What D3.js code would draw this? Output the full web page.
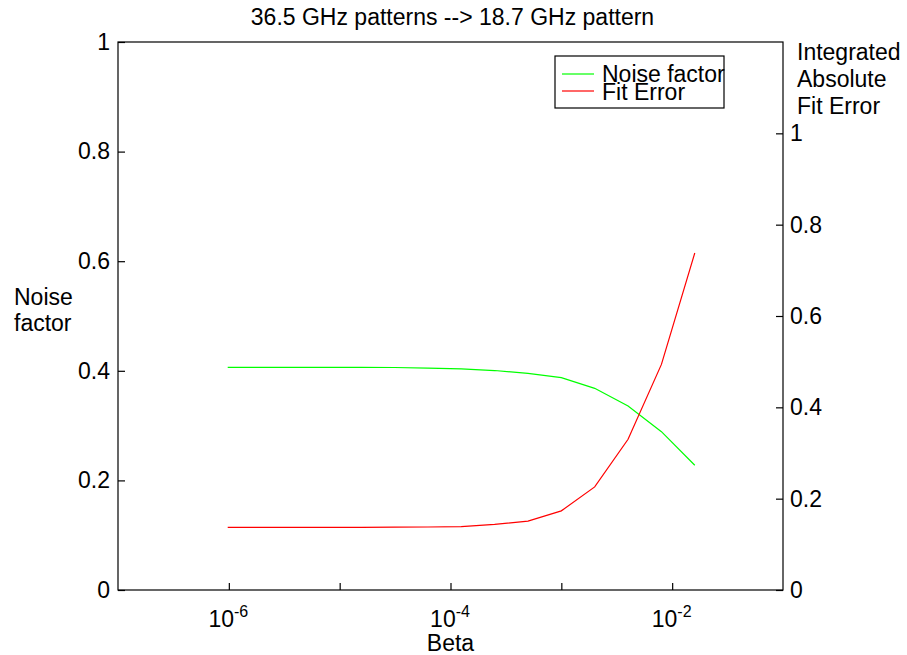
<!DOCTYPE html>
<html><head><meta charset="utf-8">
<script src="https://cdn.jsdelivr.net/npm/d3@7"></script>
<style>
body{margin:0;background:#fff}
text{font-family:"Liberation Sans",Arial,Helvetica,sans-serif;fill:#000}
</style>
</head><body>
<svg id="c" width="907" height="655"></svg>
<script>
// ---- data ----
const beta = [9.77e-7, 1.95e-6, 3.91e-6, 7.81e-6, 1.56e-5, 3.13e-5, 6.25e-5, 1.25e-4, 2.5e-4, 5e-4, 1e-3, 2e-3, 4e-3, 8e-3, 1.6e-2];
const noiseFactor = [0.4064, 0.4064, 0.4064, 0.4064, 0.4063, 0.4060, 0.4050, 0.4036, 0.4005, 0.3954, 0.3874, 0.3680, 0.3358, 0.2889, 0.2276];
const fitError = [0.137, 0.137, 0.137, 0.137, 0.137, 0.1375, 0.138, 0.1388, 0.1436, 0.1508, 0.1733, 0.2258, 0.330, 0.494, 0.738];
const xTicks = [1e-6, 1e-5, 1e-4, 1e-3, 1e-2];
const xTickLabels = {"-6": "-6", "-4": "-4", "-2": "-2"};
const leftTicks = [0, 0.2, 0.4, 0.6, 0.8, 1];
const rightTicks = [0, 0.2, 0.4, 0.6, 0.8, 1];
const title = "36.5 GHz patterns --> 18.7 GHz pattern";
const xLabel = "Beta";
const leftLabel = ["Noise", "factor"];
const rightLabel = ["Integrated", "Absolute", "Fit Error"];
const legendNames = ["Noise factor", "Fit Error"];
const colors = ["#00ff00", "#ff0000"];

// ---- layout ----
const L = 118, R = 783, T = 42, B = 590;
const FS = 23;
const svg = d3.select("#c");

const x = d3.scaleLog().domain([1e-7, 1e-1]).range([L, R]);
const yL = d3.scaleLinear().domain([0, 1]).range([B, T]);
const yR = d3.scaleLinear().domain([0, 1.2]).range([B, T]);

// frame
svg.append("rect").attr("x", L).attr("y", T).attr("width", R - L).attr("height", B - T)
  .attr("fill", "none").attr("stroke", "#000").attr("stroke-width", 1.2);

// bottom axis
const ax = svg.append("g").attr("transform", `translate(0,${B})`)
  .call(d3.axisBottom(x).tickValues(xTicks).tickSizeInner(-7).tickSizeOuter(0).tickFormat(""));
ax.select(".domain").remove();
ax.selectAll("line").attr("stroke", "#000").attr("stroke-width", 1.2);
ax.selectAll(".tick").each(function(d) {
  const e = Math.round(Math.log10(d));
  if (xTickLabels[String(e)] === undefined) return;
  const t = d3.select(this).append("text").attr("x", -1).attr("y", 37)
    .attr("text-anchor", "middle").attr("font-size", FS).attr("fill", "#000");
  t.append("tspan").text("10");
  t.append("tspan").attr("dy", -10).attr("font-size", 16).text(xTickLabels[String(e)]);
});

// left axis
const fmt = d => d === 0 || d === 1 ? d3.format("d")(d) : d3.format(".1f")(d);
const al = svg.append("g").attr("transform", `translate(${L},0)`)
  .call(d3.axisLeft(yL).tickValues(leftTicks).tickSizeInner(-7).tickSizeOuter(0)
    .tickPadding(8).tickFormat(fmt));
al.select(".domain").remove();
al.selectAll("line").attr("stroke", "#000").attr("stroke-width", 1.2);
al.selectAll("text").attr("font-size", FS).attr("fill", "#000").attr("font-family", null);

// right axis
const ar = svg.append("g").attr("transform", `translate(${R},0)`)
  .call(d3.axisRight(yR).tickValues(rightTicks).tickSizeInner(-7).tickSizeOuter(0)
    .tickPadding(7).tickFormat(fmt));
ar.select(".domain").remove();
ar.selectAll("line").attr("stroke", "#000").attr("stroke-width", 1.2);
ar.selectAll("text").attr("font-size", FS).attr("fill", "#000").attr("font-family", null);

// lines
const lineL = d3.line().x((d, i) => x(beta[i])).y(d => yL(d));
const lineR = d3.line().x((d, i) => x(beta[i])).y(d => yR(d));
svg.append("path").datum(noiseFactor).attr("d", lineL).attr("fill", "none")
  .attr("stroke", colors[0]).attr("stroke-width", 1.2);
svg.append("path").datum(fitError).attr("d", lineR).attr("fill", "none")
  .attr("stroke", colors[1]).attr("stroke-width", 1.2);

// title & labels
svg.append("text").attr("x", (L + R) / 2 + 2).attr("y", 25).attr("text-anchor", "middle")
  .attr("font-size", FS).text(title);
svg.append("text").attr("x", (L + R) / 2).attr("y", 651).attr("text-anchor", "middle")
  .attr("font-size", FS).text(xLabel);
leftLabel.forEach((s, i) => svg.append("text").attr("x", 14).attr("y", 305 + i * 26)
  .attr("font-size", FS).text(s));
rightLabel.forEach((s, i) => svg.append("text").attr("x", 797).attr("y", 60 + i * 27)
  .attr("font-size", FS).text(s));

// legend
svg.append("rect").attr("x", 555).attr("y", 56).attr("width", 169).attr("height", 52)
  .attr("fill", "#fff").attr("stroke", "#000").attr("stroke-width", 1.2);
legendNames.forEach((n, i) => {
  const yy = 74 + i * 17;
  svg.append("line").attr("x1", 562).attr("x2", 594).attr("y1", yy).attr("y2", yy)
    .attr("stroke", colors[i]).attr("stroke-width", 1.2);
  svg.append("text").attr("x", 602).attr("y", 82 + i * 18).attr("font-size", FS).text(n);
});
</script>
</body></html>
